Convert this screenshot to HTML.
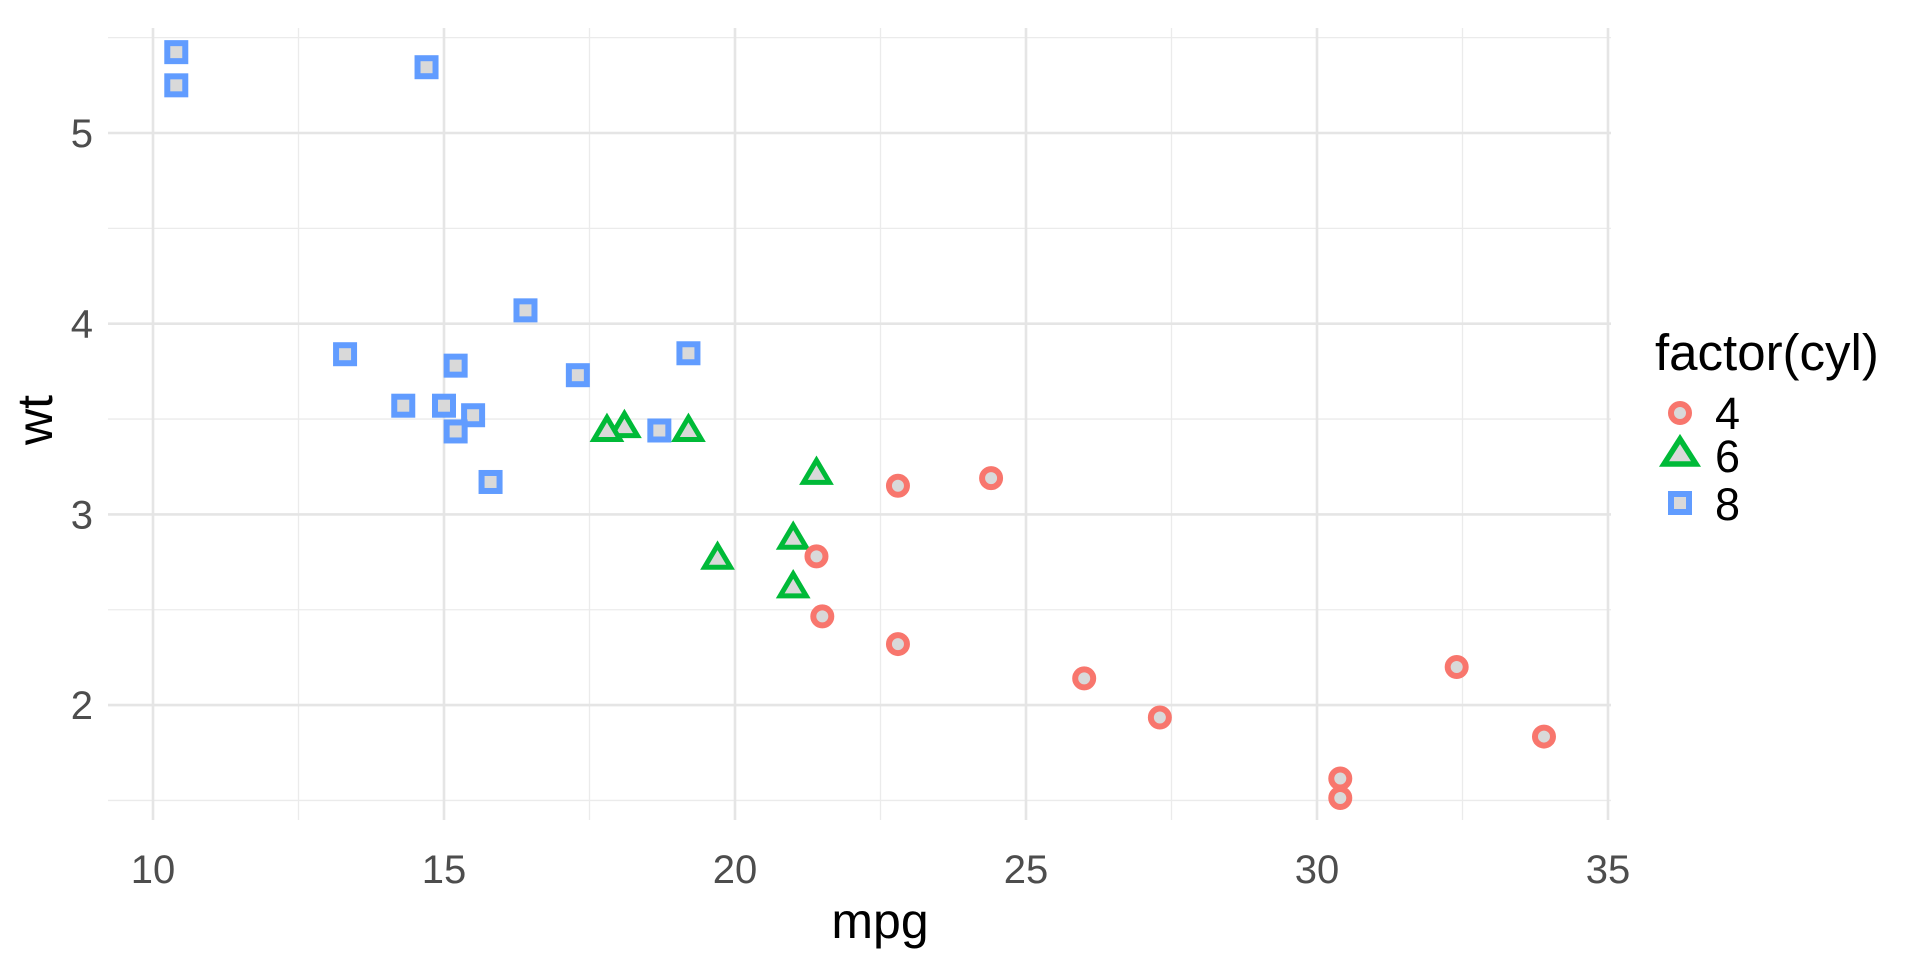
<!DOCTYPE html>
<html><head><style>
html,body{margin:0;padding:0;background:#fff;}
svg{display:block;font-family:"Liberation Sans",Arial,sans-serif;}
</style></head><body>
<svg id="s" width="1920" height="960" xmlns="http://www.w3.org/2000/svg">
<g id="grid"></g><g id="pts"></g>
<text x="880" y="938" font-size="50" text-anchor="middle" fill="#000">mpg</text>
<text transform="translate(52,420) rotate(-90)" font-size="50" text-anchor="middle" fill="#000">wt</text>
<text x="1655" y="370" font-size="51" fill="#000">factor(cyl)</text>
<circle cx="1680" cy="413" r="9" fill="#d9d9d9" stroke="#F8766D" stroke-width="6"/>
<text x="1715" y="429" font-size="45" fill="#000">4</text>
<polygon points="1680,439 1696,464 1664,464" fill="#d9d9d9" stroke="#00BA38" stroke-width="5.5"/>
<text x="1715" y="472" font-size="45" fill="#000">6</text>
<rect x="1671" y="494" width="18" height="18" fill="#d9d9d9" stroke="#619CFF" stroke-width="6"/>
<text x="1715" y="520" font-size="45" fill="#000">8</text>
</svg>
<script>
const NS="http://www.w3.org/2000/svg";
const X=v=>153+(v-10)*58.2, Y=v=>133+(5-v)*190.7;
const g=document.getElementById('grid'),p=document.getElementById('pts');
function el(par,t,a){const e=document.createElementNS(NS,t);for(const k in a)e.setAttribute(k,a[k]);par.appendChild(e);return e;}
const L=108,R=1611,T=28,B=820;
for(let v=12.5;v<35;v+=5)el(g,'line',{x1:X(v),x2:X(v),y1:T,y2:B,stroke:'#ebebeb','stroke-width':1.3});
for(let v=1.5;v<6;v+=1)el(g,'line',{x1:L,x2:R,y1:Y(v),y2:Y(v),stroke:'#ebebeb','stroke-width':1.3});
for(let v=10;v<=35;v+=5){el(g,'line',{x1:X(v),x2:X(v),y1:T,y2:B,stroke:'#e5e5e5','stroke-width':2.6});
 const t=el(g,'text',{x:X(v),y:883,'font-size':40,'text-anchor':'middle',fill:'#4d4d4d'});t.textContent=v;}
for(let v=2;v<=5;v++){el(g,'line',{x1:L,x2:R,y1:Y(v),y2:Y(v),stroke:'#e5e5e5','stroke-width':2.6});
 const t=el(g,'text',{x:93,y:Y(v)+14,'font-size':40,'text-anchor':'end',fill:'#4d4d4d'});t.textContent=v;}
const d=[[21,2.62,6],[21,2.875,6],[22.8,2.32,4],[21.4,3.215,6],[18.7,3.44,8],[18.1,3.46,6],[14.3,3.57,8],[24.4,3.19,4],[22.8,3.15,4],[19.2,3.44,6],[17.8,3.44,6],[16.4,4.07,8],[17.3,3.73,8],[15.2,3.78,8],[10.4,5.25,8],[10.4,5.424,8],[14.7,5.345,8],[32.4,2.2,4],[30.4,1.615,4],[33.9,1.835,4],[21.5,2.465,4],[15.5,3.52,8],[15.2,3.435,8],[13.3,3.84,8],[19.2,3.845,8],[27.3,1.935,4],[26,2.14,4],[30.4,1.513,4],[15.8,3.17,8],[19.7,2.77,6],[15,3.57,8],[21.4,2.78,4]];
for(const [m,w,c] of d){const x=X(m),y=Y(w);
 if(c==4)el(p,'circle',{cx:x,cy:y,r:9,fill:'#d9d9d9',stroke:'#F8766D','stroke-width':6});
 else if(c==6)el(p,'polygon',{points:`${x},${y-13} ${x+13},${y+9} ${x-13},${y+9}`,fill:'#d9d9d9',stroke:'#00BA38','stroke-width':5});
 else el(p,'rect',{x:x-9,y:y-9,width:18,height:18,fill:'#d9d9d9',stroke:'#619CFF','stroke-width':6});}
</script>
</body></html>
